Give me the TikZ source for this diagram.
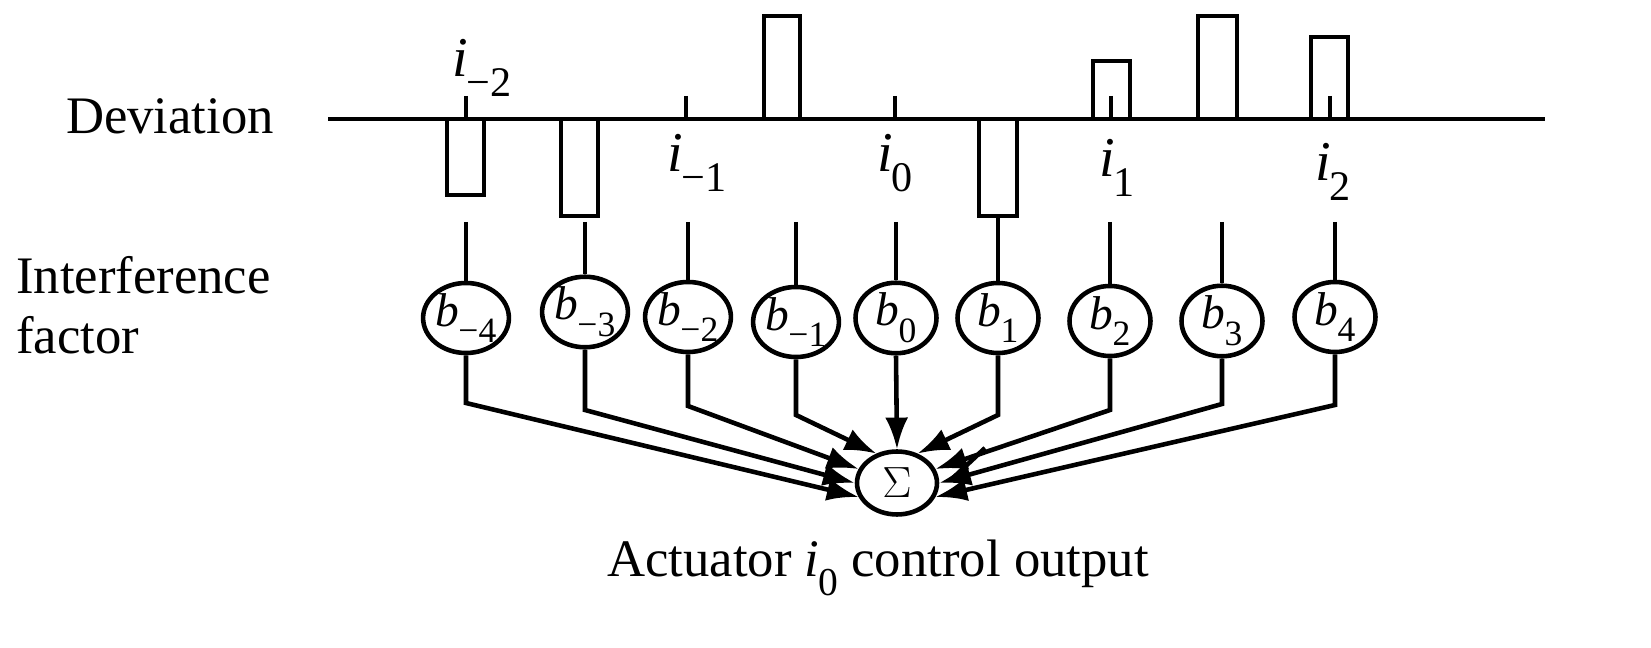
\documentclass[tikz,border=0pt]{standalone}
\usepackage{fontspec}
\setmainfont{Liberation Serif}
\usetikzlibrary{shapes.geometric,arrows.meta}
\newcommand{\vv}[2]{\textit{#1}\kern-0.5pt\raisebox{-0.35em}{\fontsize{0.75em}{1em}\selectfont #2}}
\begin{document}
\begin{tikzpicture}[x=0.02cm,y=-0.02cm,
  ln/.style={line width=2.6pt},
  bar/.style={line width=2.8pt},
  bn/.style={draw,ellipse,line width=2.6pt,minimum width=1.62cm,minimum height=1.28cm,inner sep=0pt,font=\fontsize{27}{29}\selectfont},
  lab/.style={font=\fontsize{30}{34}\selectfont},
  il/.style={font=\fontsize{32}{34}\selectfont},
  arr/.style={ln,-{Latex[length=18pt,width=13pt]}}]
\useasboundingbox (0,0) rectangle (1651,648);
\draw[ln] (328,119) -- (1545,119);
\node[lab] (dev) at (170,116) {Deviation};
\node[lab,align=left,anchor=west] (intf) at (10,305) {Interference\\factor};
\draw[bar] (447,119) rectangle (484,195);
\draw[bar] (561,119) rectangle (598,216);
\draw[bar] (764,119) rectangle (800,16);
\draw[bar] (979,119) rectangle (1017,216);
\draw[bar] (1093,119) rectangle (1130,61);
\draw[bar] (1198,119) rectangle (1237,16);
\draw[bar] (1311,119) rectangle (1348,37);
\foreach \x in {466,686,895,1111,1330} \draw[ln] (\x,96) -- (\x,119);
\node[il] (im2) at (482,68) {\vv{i}{−2}};
\node[il] (im1) at (697,163) {\vv{i}{−1}};
\node[il] (i0) at (895,163) {\vv{i}{0}};
\node[il] (i1) at (1117,168) {\vv{i}{1}};
\node[il] (i2) at (1333,172) {\vv{i}{2}};
\node[bn] (b1n) at (466,318) {\vv{b}{−4}};
\node[bn] (b2n) at (585,312) {\vv{b}{−3}};
\node[bn] (b3n) at (688,317) {\vv{b}{−2}};
\node[bn] (b4n) at (796,322) {\vv{b}{−1}};
\node[bn] (b5n) at (896,318) {\vv{b}{0}};
\node[bn] (b6n) at (998,318) {\vv{b}{1}};
\node[bn] (b7n) at (1110,321) {\vv{b}{2}};
\node[bn] (b8n) at (1222,321) {\vv{b}{3}};
\node[bn] (b9n) at (1335,317) {\vv{b}{4}};
\draw[ln] (466,222) -- (b1n.north);
\draw[ln] (585,222) -- (b2n.north);
\draw[ln] (688,222) -- (b3n.north);
\draw[ln] (796,222) -- (b4n.north);
\draw[ln] (896,222) -- (b5n.north);
\draw[ln] (998,216) -- (b6n.north);
\draw[ln] (1110,222) -- (b7n.north);
\draw[ln] (1222,222) -- (b8n.north);
\draw[ln] (1335,222) -- (b9n.north);
\node[draw,ellipse,line width=2.6pt,minimum width=1.6cm,minimum height=1.26cm,inner sep=0pt,font=\fontsize{34}{36}\selectfont] (sum) at (897,483) {$\Sigma$};
\draw[arr] (b1n.south) -- (466,403) -- (sum.200);
\draw[arr] (b2n.south) -- (585,410) -- (sum.180);
\draw[arr] (b3n.south) -- (688,406) -- (sum.160);
\draw[arr] (b4n.south) -- (796,415) -- (sum.125);
\draw[arr] (b5n.south) -- (sum.north);
\draw[arr] (b6n.south) -- (998,415) -- (sum.55);
\draw[arr] (b7n.south) -- (1110,410) -- (sum.20);
\draw[arr] (b8n.south) -- (1222,404) -- (sum.0);
\draw[arr] (b9n.south) -- (1335,405) -- (sum.-20);
\coordinate (st) at (985,448);
\draw[ln] (st) -- (953,478);
\node[lab] (out) at (878,568) {Actuator \vv{i}{0} control output};
\end{tikzpicture}
\end{document}
